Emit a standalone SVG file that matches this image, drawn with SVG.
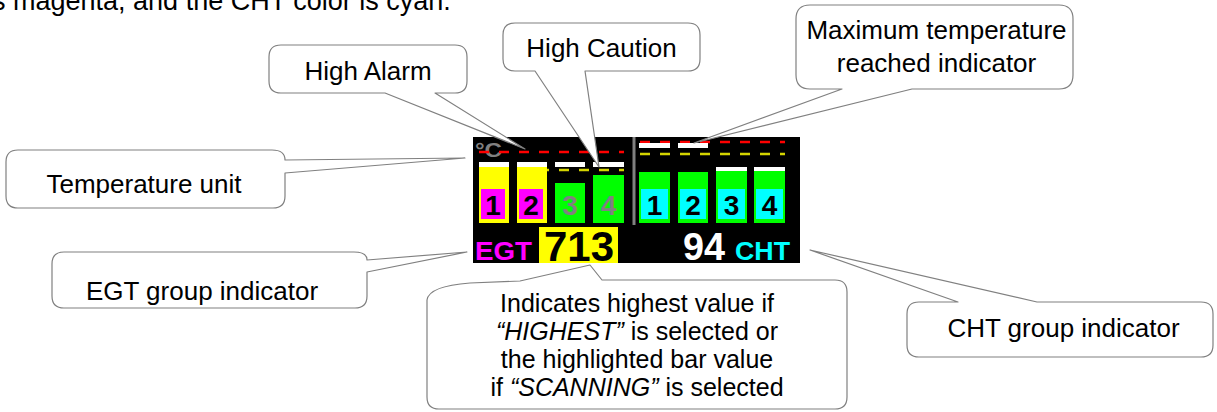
<svg xmlns="http://www.w3.org/2000/svg" width="1217" height="412" viewBox="0 0 1217 412">
<defs>
<style>
.co{fill:#ffffff;stroke:#808080;stroke-width:1.2;stroke-linejoin:round}
.t{font-family:"Liberation Sans",Arial,sans-serif;font-size:26px;fill:#000;text-anchor:middle}
.t2{font-family:"Liberation Sans",Arial,sans-serif;font-size:25px;fill:#000;text-anchor:middle}
.it{font-style:italic}
.d{font-family:"Liberation Sans",Arial,sans-serif;font-weight:bold}
.num{font-family:"Liberation Sans",Arial,sans-serif;font-weight:bold;font-size:28px;text-anchor:middle}
.red{stroke:#ff0000;stroke-width:2.5;stroke-dasharray:10 10;fill:none}
.ylw{stroke:#d4d400;stroke-width:2.5;stroke-dasharray:10 10;fill:none}
</style>
</defs>
<rect width="1217" height="412" fill="#ffffff"/>
<text x="-8" y="9.5" font-family="Liberation Sans, Arial, sans-serif" font-size="27" fill="#000">s magenta, and the CHT color is cyan.</text>

<g id="display">
<rect x="473" y="137" width="327" height="126" fill="#000"/>
<text class="d" x="475" y="157" font-size="20" fill="#808080" textLength="27" lengthAdjust="spacingAndGlyphs">°C</text>
<line class="red" x1="479" y1="152" x2="624" y2="152"/>
<line class="ylw" x1="479" y1="170" x2="624" y2="170"/>
<rect x="479" y="162" width="30" height="5" fill="#fff"/>
<rect x="479" y="167" width="30" height="56" fill="#ffff00"/>
<rect x="481" y="189" width="24" height="30" fill="#ff00ff"/>
<text class="num" x="493" y="215" fill="#000">1</text>
<rect x="517" y="162" width="30" height="5" fill="#fff"/>
<rect x="517" y="167" width="30" height="56" fill="#ffff00"/>
<rect x="519" y="189" width="24" height="30" fill="#ff00ff"/>
<text class="num" x="531" y="215" fill="#000">2</text>
<rect x="555" y="162" width="30" height="5" fill="#fff"/>
<rect x="555" y="183" width="30" height="40" fill="#00ff00"/>
<text class="num" x="570" y="215" fill="#808080">3</text>
<rect x="593" y="162" width="31" height="5" fill="#fff"/>
<rect x="593" y="175" width="31" height="48" fill="#00ff00"/>
<text class="num" x="608.5" y="215" fill="#808080">4</text>
<rect x="632.5" y="137" width="3" height="88" fill="#808080"/>
<line class="red" x1="640" y1="142" x2="785" y2="142"/>
<line class="ylw" x1="640" y1="154" x2="785" y2="154"/>
<rect x="639" y="143" width="31" height="5" fill="#fff"/>
<rect x="678" y="143" width="30" height="5" fill="#fff"/>
<rect x="639" y="172" width="31" height="51" fill="#00ff00"/>
<rect x="641" y="189" width="27" height="30" fill="#00ffff"/>
<text class="num" x="654.5" y="215" fill="#000">1</text>
<rect x="678" y="172" width="30" height="51" fill="#00ff00"/>
<rect x="680" y="189" width="26" height="30" fill="#00ffff"/>
<text class="num" x="693" y="215" fill="#000">2</text>
<rect x="716" y="167" width="31" height="4" fill="#fff"/>
<rect x="716" y="171" width="31" height="52" fill="#00ff00"/>
<rect x="718" y="189" width="27" height="30" fill="#00ffff"/>
<text class="num" x="731.5" y="215" fill="#000">3</text>
<rect x="754" y="167" width="31" height="4" fill="#fff"/>
<rect x="754" y="171" width="31" height="52" fill="#00ff00"/>
<rect x="756" y="189" width="27" height="30" fill="#00ffff"/>
<text class="num" x="769.5" y="215" fill="#000">4</text>
<text class="d" x="475" y="260" font-size="26" fill="#ff00ff" textLength="57" lengthAdjust="spacingAndGlyphs">EGT</text>
<rect x="539" y="227" width="79" height="36" fill="#ffff00"/>
<text class="d" x="544" y="261" font-size="42" fill="#000" textLength="70" lengthAdjust="spacingAndGlyphs">713</text>
<text class="d" x="683" y="260" font-size="39" fill="#fff" textLength="42" lengthAdjust="spacingAndGlyphs">94</text>
<text class="d" x="735" y="260" font-size="25" fill="#00ffff" textLength="55" lengthAdjust="spacingAndGlyphs">CHT</text>
</g>

<g id="callout-temp-unit">
<path class="co" d="M18,150 H272 Q285,150 285,160 L465,158 L285,173 V196 Q285,208 273,208 H18 Q6,208 6,196 V162 Q6,150 18,150 Z"/>
<text class="t" x="144" y="193">Temperature unit</text>
</g>
<g id="callout-egt">
<path class="co" d="M64,252 H354 Q367,252 367,260 L467,252 L367,272 V296 Q367,308 355,308 H64 Q52,308 52,296 V264 Q52,252 64,252 Z"/>
<text class="t" x="202" y="300">EGT group indicator</text>
</g>
<g id="callout-high-alarm">
<path class="co" d="M281,45 H455 Q467,45 467,57 V81 Q467,93 455,93 H435 L525,149 L385,93 H281 Q269,93 269,81 V57 Q269,45 281,45 Z"/>
<text class="t" x="368" y="80">High Alarm</text>
</g>
<g id="callout-high-caution">
<path class="co" d="M515,23 H688 Q700,23 700,35 V59 Q700,71 688,71 H585 L599,167 L535,71 H515 Q503,71 503,59 V35 Q503,23 515,23 Z"/>
<text class="t" x="601.5" y="57">High Caution</text>
</g>
<g id="callout-max-temp">
<path class="co" d="M810,5 H1059 Q1073,5 1073,19 V75 Q1073,89 1059,89 H912 L694,143 L842,89 H810 Q796,89 796,75 V19 Q796,5 810,5 Z"/>
<text class="t" x="936.5" y="39">Maximum temperature</text>
<text class="t" x="936.5" y="72">reached indicator</text>
</g>
<g id="callout-cht">
<path class="co" d="M919,302 H958 L810,250 L1037,302 H1201 Q1213,302 1213,314 V345 Q1213,357 1201,357 H919 Q907,357 907,345 V314 Q907,302 919,302 Z"/>
<text class="t" x="1063.5" y="337">CHT group indicator</text>
</g>
<g id="callout-value">
<path class="co" d="M427,300 Q429,286 470,283 L520,281 L590,265 L602,280 H835 Q847,280 847,292 V397 Q847,409 835,409 H439 Q427,409 427,397 Z"/>
<text class="t2" x="637" y="312">Indicates highest value if</text>
<text class="t2" x="637" y="340"><tspan class="it">“HIGHEST”</tspan> is selected or</text>
<text class="t2" x="637" y="368">the highlighted bar value</text>
<text class="t2" x="637" y="396">if <tspan class="it">“SCANNING”</tspan> is selected</text>
</g>
</svg>
